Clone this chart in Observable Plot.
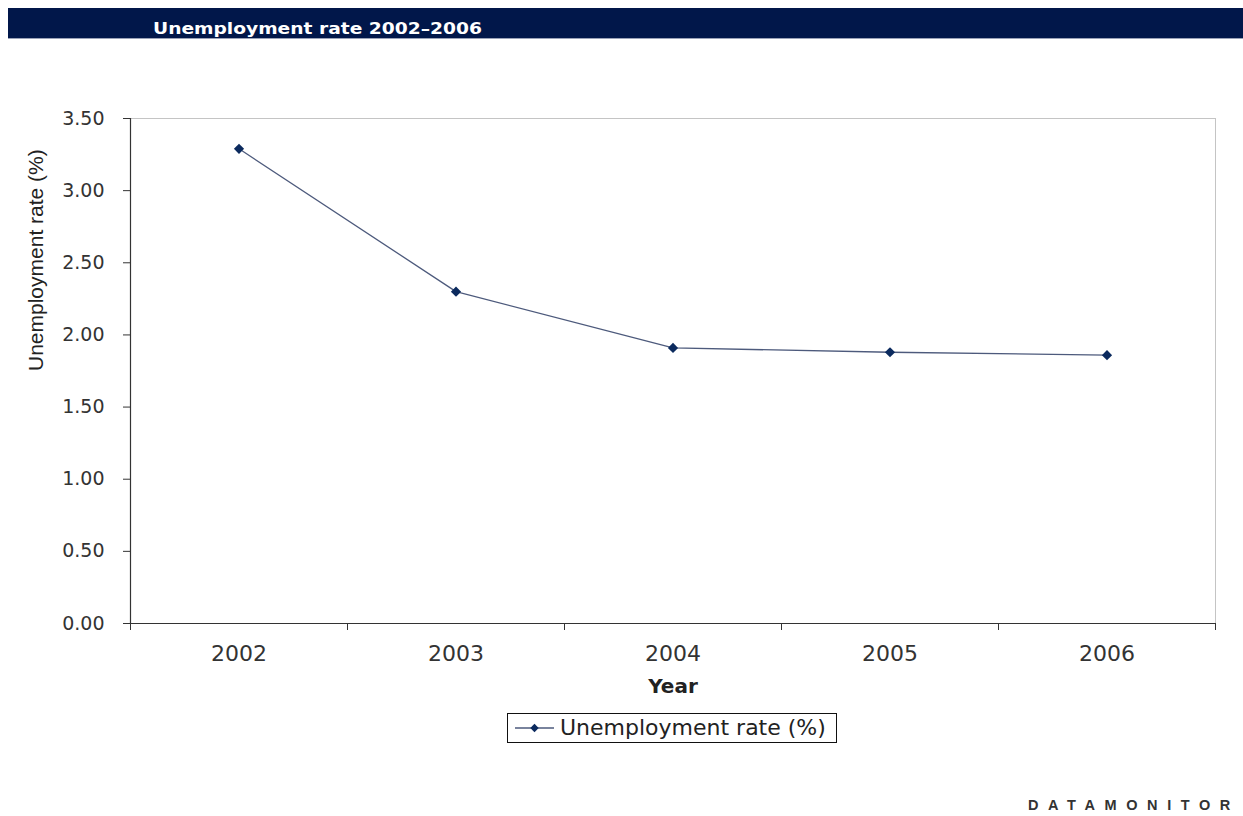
<!DOCTYPE html>
<html>
<head>
<meta charset="utf-8">
<script src="https://cdn.jsdelivr.net/npm/d3@7"></script>
<script src="https://cdn.jsdelivr.net/npm/@observablehq/plot@0.6"></script>
<style>
  html, body { margin: 0; padding: 0; background: #fff; width: 1243px; height: 816px; overflow: hidden; }
  #root { position: relative; width: 1243px; height: 816px; }
  #chart { position: absolute; left: 0; top: 0; }
  #titlebar { position: absolute; left: 8px; top: 8px; width: 1235px; height: 31px; background: #01174a; border-bottom: 1px solid #9aa2b8; box-sizing: border-box; }
  #title { position: absolute; left: 145px; top: 11px; line-height: 20px; font-family: "DejaVu Sans", sans-serif; font-weight: bold; font-size: 16.5px; color: #fff; white-space: nowrap; transform: scaleX(1.13); transform-origin: left center; }
  #legend { position: absolute; left: 507px; top: 713px; width: 330px; height: 30px; border: 1px solid #111; box-sizing: border-box; }
  #legend svg { position: absolute; left: 0; top: 0; }
  #legend span { position: absolute; left: 52px; top: 1px; line-height: 26px; font-family: "DejaVu Sans", sans-serif; font-size: 22px; color: #222; white-space: nowrap; }
  #footer { position: absolute; left: 1028px; top: 796px; line-height: 18px; font-family: "Liberation Sans", Arial, sans-serif; font-weight: bold; font-size: 14.5px; letter-spacing: 9.6px; color: #333; white-space: nowrap; }
</style>
</head>
<body>
<div id="root">
  <div id="chart"></div>
  <div id="titlebar"><div id="title"></div></div>
  <div id="legend"></div>
  <div id="footer"></div>
</div>
<script>
// ---- data ----
const titleText = "Unemployment rate 2002\u20132006";
const years = [2002, 2003, 2004, 2005, 2006];
const rates = [3.29, 2.30, 1.91, 1.88, 1.86];
const yTicks = [0, 0.5, 1.0, 1.5, 2.0, 2.5, 3.0, 3.5];
const yTitle = "Unemployment rate (%)";
const xTitle = "Year";
const seriesName = "Unemployment rate (%)";
const sourceText = "DATAMONITOR";

const data = years.map((year, i) => ({year, rate: rates[i]}));
const bounds = [...years.map(y => y - 0.5), years[years.length - 1] + 0.5];

const lineColor = "#4d5a7c";
const markerColor = "#0b2a5e";

const chart = Plot.plot({
  width: 1243,
  height: 816,
  marginLeft: 130,
  marginRight: 28,
  marginTop: 118,
  marginBottom: 193,
  style: {fontFamily: "DejaVu Sans, sans-serif", background: "transparent", overflow: "visible"},
  x: {domain: [bounds[0], bounds[bounds.length - 1]]},
  y: {domain: [yTicks[0], yTicks[yTicks.length - 1]]},
  marks: [
    Plot.ruleY([yTicks[yTicks.length - 1]], {stroke: "#c4c4c4", strokeWidth: 1}),
    Plot.ruleX([bounds[bounds.length - 1]], {stroke: "#c4c4c4", strokeWidth: 1}),
    Plot.axisY(yTicks, {
      tickFormat: d => d.toFixed(2), tickSize: 7, tickPadding: 19,
      fontSize: 19, fill: "#333", stroke: "#333", label: null
    }),
    Plot.axisX(bounds, {tickSize: 7, tickFormat: () => "", stroke: "#333", label: null}),
    Plot.axisX(years, {tickSize: 0, tickPadding: 22, tickFormat: d => String(d), fontSize: 22, fill: "#333", label: null}),
    Plot.ruleX([bounds[0]], {stroke: "#333", strokeWidth: 1.2}),
    Plot.ruleY([yTicks[0]], {stroke: "#333", strokeWidth: 1.2}),
    Plot.text([yTitle], {text: d => d, frameAnchor: "left", rotate: -90, dx: -94, fontSize: 21, fontFamily: "Liberation Sans, Arial, sans-serif", fill: "#222"}),
    Plot.text([xTitle], {text: d => d, frameAnchor: "bottom", dy: 69, fontSize: 20, fontWeight: "bold", fill: "#222"}),
    Plot.line(data, {x: "year", y: "rate", stroke: lineColor, strokeWidth: 1.3}),
    Plot.dot(data, {x: "year", y: "rate", symbol: "diamond2", r: 4.6, fill: markerColor, stroke: "none"})
  ]
});
document.getElementById("chart").appendChild(chart);

document.getElementById("title").textContent = titleText;
document.getElementById("footer").textContent = sourceText;

const legend = document.getElementById("legend");
legend.innerHTML =
  `<svg width="50" height="28"><line x1="7" y1="14" x2="46" y2="14" stroke="${lineColor}" stroke-width="1.3"/>` +
  `<path d="M26.5,9.8 L30.7,14 L26.5,18.2 L22.3,14 Z" fill="${markerColor}"/></svg>` +
  `<span></span>`;
legend.querySelector("span").textContent = seriesName;
</script>
</body>
</html>
